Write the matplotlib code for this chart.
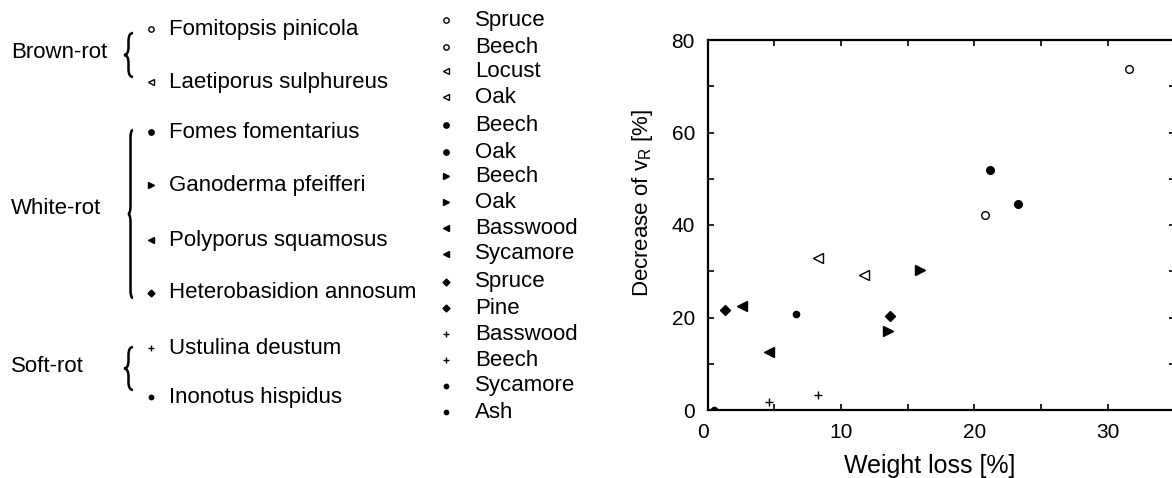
import numpy as np
import matplotlib.pyplot as plt
import matplotlib.transforms as mtransforms
from matplotlib.path import Path
from matplotlib.patches import PathPatch

plt.rcParams['font.family'] = ['Liberation Sans', 'DejaVu Sans']

# fungus species, rot type and marker used in the plot
groups = ["Brown-rot", "White-rot", "Soft-rot"]
species = ["Fomitopsis pinicola", "Laetiporus sulphureus", "Fomes fomentarius",
           "Ganoderma pfeifferi", "Polyporus squamosus", "Heterobasidion annosum",
           "Ustulina deustum", "Inonotus hispidus"]
species_group = [0, 0, 1, 1, 1, 1, 2, 2]

# wood species tested with each fungus (two per fungus)
wood = ["Spruce", "Beech", "Locust", "Oak", "Beech", "Oak", "Beech", "Oak",
        "Basswood", "Sycamore", "Spruce", "Pine", "Basswood", "Beech",
        "Sycamore", "Ash"]
weight_loss = [31.6, 20.8, 8.25, 11.7, 21.2, 23.3, 13.5, 15.9,
               4.6, 2.6, 1.3, 13.7, 4.6, 8.25, 6.6, 0.5]
decrease_vr = [73.8, 42.1, 32.8, 29.2, 52.0, 44.5, 17.1, 30.3,
               12.5, 22.5, 21.6, 20.4, 1.7, 3.2, 20.8, 0.0]

# marker style per fungus: (marker, filled, size)
styles = [("o", False, 5.5), ("<", False, 6.5), ("o", True, 5.5), (">", True, 7),
          ("<", True, 7), ("D", True, 5), ("+", True, 5.5), ("o", True, 4.5)]

fig = plt.figure(figsize=(11.72, 4.78), dpi=100)

# left side: hand-drawn legend, in pixel coords
lax = fig.add_axes([0, 0, 1, 1])
lax.set_xlim(0, 1172)
lax.set_ylim(478, 0)
lax.axis("off")


def brace(x_tip, x_end, y0, y1):
    xm = (x_tip + x_end) / 2
    ym = (y0 + y1) / 2
    r = min(8, (y1 - y0) / 4)
    verts = [(x_end, y0), (xm, y0), (xm, y0 + r),
             (xm, ym - r), (xm, ym), (x_tip, ym),
             (xm, ym), (xm, ym + r),
             (xm, y1 - r), (xm, y1), (x_end, y1)]
    codes = [Path.MOVETO, Path.CURVE3, Path.CURVE3,
             Path.LINETO, Path.CURVE3, Path.CURVE3,
             Path.CURVE3, Path.CURVE3,
             Path.LINETO, Path.CURVE3, Path.CURVE3]
    lax.add_patch(PathPatch(Path(verts, codes), fill=False, lw=1.8, color="black"))


row_y = [29, 82, 132, 185, 240, 293, 348, 397]
group_y = [52, 208, 367]
brace_span = [(33, 77, 124), (130, 298, 128), (347, 390, 124)]

for g, name in enumerate(groups):
    lax.text(11, group_y[g], name, fontsize=16, va="center", ha="left")
    y0, y1, xt = brace_span[g]
    brace(xt, 133, y0, y1)


def draw_marker(axis, x, y, st, scale=1.0):
    m, filled, s = st
    axis.plot(x, y, marker=m, ls="none", markersize=s * scale,
              markerfacecolor="black" if filled else "white",
              markeredgecolor="black", markeredgewidth=1.0)


for i, name in enumerate(species):
    draw_marker(lax, [151], [row_y[i]], styles[i], 0.7)
    lax.text(169, row_y[i], name, fontsize=16, va="center", ha="left")

wood_y = [20, 47, 71, 97, 125, 152, 176, 202, 228, 254, 282, 308, 334, 360, 386, 412]
for j, w in enumerate(wood):
    draw_marker(lax, [446], [wood_y[j]], styles[j // 2], 0.7)
    lax.text(475, wood_y[j], w, fontsize=16, va="center", ha="left")

# right side: scatter plot
ax = fig.add_axes([707.5 / 1172, 68 / 478, 467 / 1172, 370 / 478])
for i in range(len(species)):
    draw_marker(ax, weight_loss[2 * i:2 * i + 2], decrease_vr[2 * i:2 * i + 2], styles[i])

ax.set_xlim(0, 35)
ax.set_ylim(0, 80)
ax.set_xticks(np.arange(0, 36, 5))
ax.set_xticklabels(["0", "", "10", "", "20", "", "30", ""])
ax.set_yticks(np.arange(0, 81, 10))
ax.set_yticklabels(["0", "", "20", "", "40", "", "60", "", "80"])
ax.tick_params(direction="in", length=4, width=1.2, top=True, right=True,
               labelsize=15, pad=9)
for sp in ax.spines.values():
    sp.set_linewidth(1.6)

# the "0" under the x axis sits a little to the left
shift = mtransforms.ScaledTranslation(-5 / 100, 0, fig.dpi_scale_trans)
lbl0 = ax.get_xticklabels()[0]
lbl0.set_transform(lbl0.get_transform() + shift)

ax.set_xlabel("Weight loss [%]", fontsize=18)
ax.xaxis.set_label_coords(0.476, -0.12)
ax.set_ylabel("Decrease of v$_\\mathregular{R}$ [%]", fontsize=16)
ax.yaxis.set_label_coords(-0.112, 0.56)

fig.savefig("out.png", dpi=100)
